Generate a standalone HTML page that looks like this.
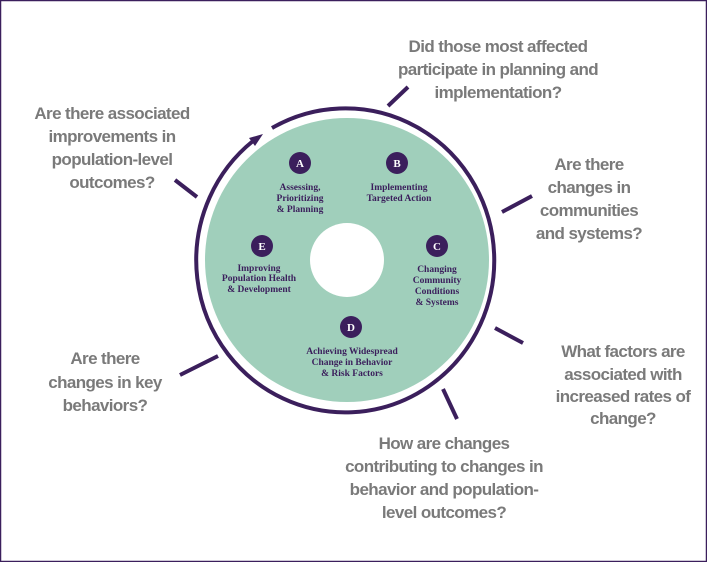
<!DOCTYPE html>
<html><head><meta charset="utf-8"><style>
html,body{margin:0;padding:0;background:#fff}
svg{display:block}
.q{font-family:"Liberation Sans",sans-serif;font-weight:bold;font-size:17px;fill:#7a7a7a;text-anchor:middle;letter-spacing:-0.6px}
.l{font-family:"Liberation Serif",serif;font-weight:bold;font-size:9.5px;fill:#3b1f5c;text-anchor:middle}
.c{font-family:"Liberation Serif",serif;font-weight:bold;font-size:11px;fill:#fff;text-anchor:middle}
</style></head><body>
<svg width="707" height="562" viewBox="0 0 707 562" xmlns="http://www.w3.org/2000/svg">
<rect x="0.5" y="0.5" width="706" height="561" fill="#fff" stroke="#3b1f5c" stroke-width="1.5"/>
<circle cx="347" cy="260" r="142" fill="#a0cfbb"/>
<circle cx="347" cy="260" r="37" fill="#fff"/>
<path d="M272 128 A149 152 0 1 1 253 141" fill="none" stroke="#3b1f5c" stroke-width="4"/>
<path d="M263 134 L255 146 L249 138 Z" fill="#3b1f5c"/>
<g stroke="#3b1f5c" stroke-width="4" stroke-linecap="butt">
<line x1="388" y1="106" x2="408" y2="87"/>
<line x1="175" y1="180" x2="197" y2="197"/>
<line x1="502" y1="212" x2="532" y2="196"/>
<line x1="495" y1="328" x2="523" y2="343"/>
<line x1="443" y1="389" x2="457" y2="419"/>
<line x1="180" y1="375" x2="218" y2="356"/>
</g>
<g fill="#3b1f5c">
<circle cx="300" cy="163" r="11"/><circle cx="397" cy="163" r="11"/>
<circle cx="437" cy="246" r="11"/><circle cx="262" cy="246" r="11"/>
<circle cx="351" cy="327" r="11"/>
</g>
<text class="c" x="300" y="167">A</text><text class="c" x="397" y="167">B</text>
<text class="c" x="437" y="250">C</text><text class="c" x="262" y="250">E</text>
<text class="c" x="351" y="331">D</text>
<text class="l" x="300" y="190">Assessing,</text><text class="l" x="300" y="201">Prioritizing</text><text class="l" x="300" y="212">&amp; Planning</text>
<text class="l" x="399" y="190">Implementing</text><text class="l" x="399" y="201">Targeted Action</text>
<text class="l" x="437" y="272">Changing</text><text class="l" x="437" y="283">Community</text><text class="l" x="437" y="294">Conditions</text><text class="l" x="437" y="305">&amp; Systems</text>
<text class="l" x="259" y="271">Improving</text><text class="l" x="259" y="281">Population Health</text><text class="l" x="259" y="292">&amp; Development</text>
<text class="l" x="352" y="354">Achieving Widespread</text><text class="l" x="352" y="365">Change in Behavior</text><text class="l" x="352" y="376">&amp; Risk Factors</text>
<text class="q" x="498" y="52">Did those most affected</text>
<text class="q" x="498" y="75">participate in planning and</text>
<text class="q" x="498" y="98">implementation?</text>
<text class="q" x="112" y="119">Are there associated</text>
<text class="q" x="112" y="142">improvements in</text>
<text class="q" x="112" y="165">population-level</text>
<text class="q" x="112" y="188">outcomes?</text>
<text class="q" x="589" y="170">Are there</text>
<text class="q" x="589" y="193">changes in</text>
<text class="q" x="589" y="216">communities</text>
<text class="q" x="589" y="239">and systems?</text>
<text class="q" x="623" y="357">What factors are</text>
<text class="q" x="623" y="380">associated with</text>
<text class="q" x="623" y="402">increased rates of</text>
<text class="q" x="623" y="424">change?</text>
<text class="q" x="444" y="449">How are changes</text>
<text class="q" x="444" y="472">contributing to changes in</text>
<text class="q" x="444" y="495">behavior and population-</text>
<text class="q" x="444" y="518">level outcomes?</text>
<text class="q" x="105" y="364">Are there</text>
<text class="q" x="105" y="388">changes in key</text>
<text class="q" x="105" y="411">behaviors?</text>
</svg>
</body></html>
